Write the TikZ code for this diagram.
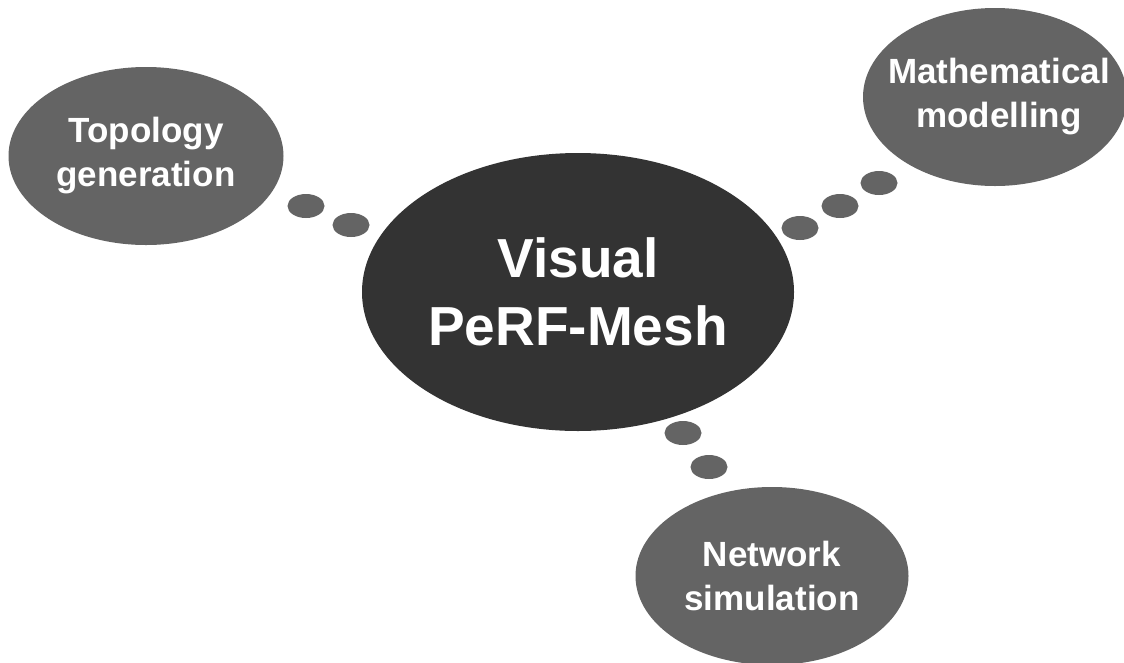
\documentclass[tikz,border=0pt]{standalone}
\usepackage{fontspec}
\setmainfont{Liberation Sans}
\usetikzlibrary{shapes.geometric}
\definecolor{hubgray}{HTML}{333333}
\definecolor{satgray}{HTML}{646464}
\tikzset{
  hub/.style={ellipse, fill=hubgray, draw=none, inner sep=0pt, minimum width=432pt, minimum height=278pt},
  sat/.style={ellipse, fill=satgray, draw=none, inner sep=0pt, minimum width=275pt, minimum height=178pt},
  dotblob/.style={ellipse, fill=satgray, draw=none, inner sep=0pt, minimum width=37pt, minimum height=24pt},
  hubtext/.style={text=white, align=center, inner sep=0pt, font=\bfseries\fontsize{55}{68}\selectfont},
  sattext/.style={text=white, align=center, inner sep=0pt, font=\bfseries\fontsize{35}{44}\selectfont}
}
\begin{document}
\begin{tikzpicture}[x=1pt, y=-1pt]
\useasboundingbox (0,0) rectangle (1124,662);
\clip (0,0) rectangle (1124,662);
\fill[white] (0,0) rectangle (1124,662);
% main nodes
\node[hub] (hub) at (578,292) {};
\node[sat] (topo) at (146,156) {};
\node[sat, minimum width=264pt] (math) at (995,97) {};
\node[sat, minimum width=273pt] (net) at (772,576) {};
% texts
\node[hubtext] (hubt) at (hub.center) {Visual\\PeRF-Mesh};
\node[sattext] (topot) at (topo.center) {Topology\\generation};
\node[sattext] (matht) at ([xshift=4pt]math.center) {Mathematical\\modelling};
\node[sattext] (nett) at (net.center) {Network\\simulation};
% thought-bubble dots
\node[dotblob] (t1) at (306,206) {};
\node[dotblob] (t2) at (351,225) {};
\node[dotblob] (m1) at (800,228) {};
\node[dotblob] (m2) at (840,206) {};
\node[dotblob] (m3) at (879,183) {};
\node[dotblob] (n1) at (683,433) {};
\node[dotblob] (n2) at (709,467) {};
\end{tikzpicture}
\end{document}
